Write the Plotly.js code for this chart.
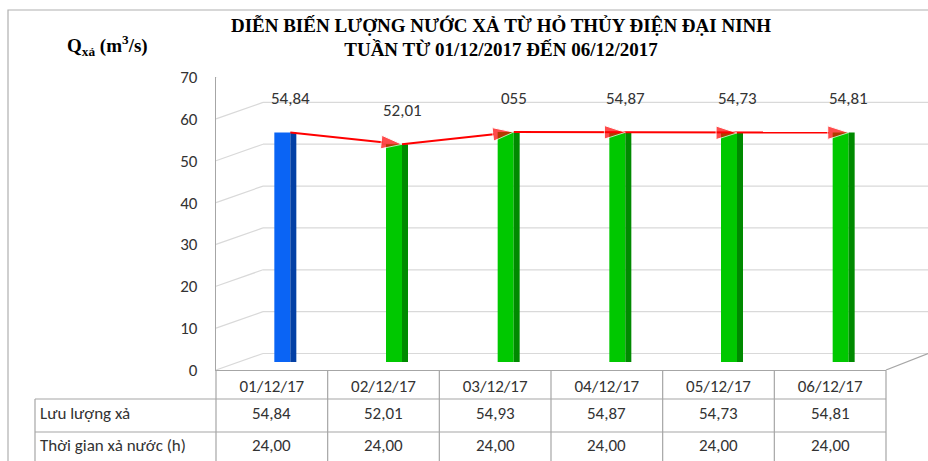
<!DOCTYPE html>
<html>
<head>
<meta charset="utf-8">
<script src="https://cdn.plot.ly/plotly-3.0.1.min.js"></script>
<style>html,body{margin:0;padding:0;background:#fff;}#chart{width:928px;height:461px;}</style>
</head>
<body>
<div id="chart"></div>
<script>
// ---- data ----
var categories = ["01/12/17", "02/12/17", "03/12/17", "04/12/17", "05/12/17", "06/12/17"];
var flowValues = [54.84, 52.01, 54.93, 54.87, 54.73, 54.81];
var pointLabels = ["54,84", "52,01", "055", "54,87", "54,73", "54,81"];
var hourValues = [24, 24, 24, 24, 24, 24];
var rowNames = ["Lưu lượng xả", "Thời gian xả nước (h)"];
var yTicks = [0, 10, 20, 30, 40, 50, 60, 70];
var titleLines = ["DIỄN BIẾN LƯỢNG NƯỚC XẢ TỪ HỎ THỦY ĐIỆN ĐẠI NINH", "TUẦN TỪ 01/12/2017 ĐẾN 06/12/2017"];

// ---- styles ----
var W = 928, H = 461;
var M = {l: 216, r: 42, t: 77, b: 91};
var PH = H - M.t - M.b; // 293
var PW = W - M.l - M.r; // 670
var FONT = "Carlito, Lato, 'Open Sans', sans-serif";
var SERIF = "'Liberation Serif', 'Times New Roman', serif";
var TXT = "#333333";
var frontColors = ["#0a64f5", "#00c800", "#00c800", "#00c800", "#00c800", "#00c800"];
var sideColors = ["#0340a5", "#008a00", "#008a00", "#008a00", "#008a00", "#008a00"];
var gridColor = "#d9d9d9", lineColor = "#a6a6a6";
var depthX = 47, depthY = 16.5;     // 3-D back-wall offset in px
var barBaseShift = 8;               // bars stand 8px behind the front edge
var faceW = 16 / (PW / 6), sideW = 6 / (PW / 6);
var faceShift = 18.5 / (PW / 6);

function fmt(v) { return v.toFixed(2).replace('.', ','); }
function pxX(px) { return (px - M.l) / PW; }
function pxY(py) { return (H - M.b - py) / PH; }

var idx = categories.map(function (c, i) { return i; });
var unitPx = PH / 70;
var barShiftUnits = barBaseShift / unitPx;

var traces = [
  {type: 'bar', x: idx, y: flowValues, xaxis: 'x2', yaxis: 'y', width: faceW, offset: -faceW,
   marker: {color: frontColors, line: {width: 0}}, hoverinfo: 'skip', showlegend: false},
  {type: 'bar', x: idx, y: flowValues, xaxis: 'x2', yaxis: 'y', width: sideW, offset: 0,
   marker: {color: sideColors, line: {width: 0}}, hoverinfo: 'skip', showlegend: false},
  {type: 'scatter', mode: 'lines+markers', x: idx, y: flowValues, xaxis: 'x2', yaxis: 'y',
   line: {color: '#ff0000', width: 2},
   marker: {symbol: 'arrow', angleref: 'previous', size: idx.map(function (i) { return i === 0 ? 0 : 22; }), color: '#ff0000'},
   cliponaxis: false, hoverinfo: 'skip', showlegend: false}
];

var shapes = [];
// outer frame
shapes.push({type: 'rect', xref: 'paper', yref: 'paper', x0: pxX(8), x1: pxX(W + 5), y0: pxY(10), y1: pxY(H + 5),
  line: {color: '#b0b0b0', width: 1.2}, layer: 'above'});
// back-wall gridlines
yTicks.forEach(function (v) {
  shapes.push({type: 'line', xref: 'paper', xsizemode: 'pixel', xanchor: 0, x0: 0, x1: depthX,
    yref: 'y2', ysizemode: 'pixel', yanchor: v, y0: 0, y1: depthY, line: {color: gridColor, width: 1.2}, layer: 'below'});
  shapes.push({type: 'line', xref: 'paper', xsizemode: 'pixel', xanchor: 0, x0: depthX, x1: W - M.l,
    yref: 'y2', ysizemode: 'pixel', yanchor: v, y0: depthY, y1: depthY, line: {color: gridColor, width: 1.2}, layer: 'below'});
});
// floor right edge
shapes.push({type: 'line', xref: 'paper', xsizemode: 'pixel', xanchor: 1, x0: 0, x1: M.r,
  yref: 'y2', ysizemode: 'pixel', yanchor: 0, y0: 0, y1: depthY, line: {color: lineColor, width: 1.2}, layer: 'below'});
// table: vertical column lines
for (var k = 0; k <= categories.length; k++) {
  shapes.push({type: 'line', xref: 'paper', x0: k / categories.length, x1: k / categories.length,
    yref: 'paper', y0: 0, y1: pxY(H + 5), line: {color: lineColor, width: 1.2}, layer: 'above'});
}
// table: row lines
[399, 432].forEach(function (py) {
  shapes.push({type: 'line', xref: 'paper', x0: pxX(35), x1: 1,
    yref: 'paper', y0: pxY(py), y1: pxY(py), line: {color: lineColor, width: 1.2}, layer: 'above'});
});
// table: left border
shapes.push({type: 'line', xref: 'paper', x0: pxX(35), x1: pxX(35),
  yref: 'paper', y0: pxY(399), y1: pxY(H + 5), line: {color: lineColor, width: 1.2}, layer: 'above'});

var annotations = [];
// data labels
idx.forEach(function (i) {
  annotations.push({xref: 'x2', yref: 'y', x: i, y: flowValues[i], yshift: 34, text: pointLabels[i],
    showarrow: false, font: {family: FONT, size: 17, color: TXT}});
});
// table rows
var rowY = [413.5, 445];
rowNames.forEach(function (name, r) {
  annotations.push({xref: 'paper', x: pxX(38), xanchor: 'left', yref: 'paper', y: pxY(rowY[r]), yanchor: 'middle',
    text: name, showarrow: false, font: {family: FONT, size: 17, color: TXT}});
});
idx.forEach(function (i) {
  annotations.push({xref: 'x', x: i, xanchor: 'center', yref: 'paper', y: pxY(rowY[0]), yanchor: 'middle',
    text: fmt(flowValues[i]), showarrow: false, font: {family: FONT, size: 17, color: TXT}});
  annotations.push({xref: 'x', x: i, xanchor: 'center', yref: 'paper', y: pxY(rowY[1]), yanchor: 'middle',
    text: fmt(hourValues[i]), showarrow: false, font: {family: FONT, size: 17, color: TXT}});
});
// y-axis unit title
annotations.push({xref: 'paper', yref: 'paper', x: pxX(107), xanchor: 'center', y: pxY(46), yanchor: 'middle',
  text: '<b>Q<sub>xả</sub> (m<sup>3</sup>/s)</b>', showarrow: false, font: {family: SERIF, size: 19, color: '#000'}});

var layout = {
  width: W, height: H,
  margin: M,
  paper_bgcolor: '#fff', plot_bgcolor: 'rgba(0,0,0,0)',
  barmode: 'overlay',
  showlegend: false,
  title: {text: '<b>' + titleLines.join('<br>') + '</b>', xref: 'container', x: 501 / W, xanchor: 'center',
    yref: 'container', y: 1 - 31.5 / H, yanchor: 'top', font: {family: SERIF, size: 19, color: '#000'}},
  xaxis: {range: [-0.5, categories.length - 0.5], tickvals: idx, ticktext: categories, showgrid: false, zeroline: false,
    showline: true, linecolor: lineColor, linewidth: 1.2, ticks: '', tickfont: {family: FONT, size: 17, color: TXT},
    ticklabelstandoff: 0, anchor: 'y2', fixedrange: true},
  xaxis2: {range: [-0.5 - faceShift, categories.length - 0.5 - faceShift], overlaying: 'x', anchor: 'y', visible: false, fixedrange: true},
  yaxis: {range: [-barShiftUnits, 70 - barShiftUnits], visible: false, anchor: 'x2', fixedrange: true},
  yaxis2: {range: [0, 70], overlaying: 'y', anchor: 'x', side: 'left', tickvals: yTicks, showgrid: false, zeroline: false,
    showline: true, linecolor: lineColor, linewidth: 1.2, ticks: '', ticklabelstandoff: 14,
    tickfont: {family: FONT, size: 17, color: TXT}, fixedrange: true},
  shapes: shapes,
  annotations: annotations
};

Plotly.newPlot('chart', traces, layout, {displayModeBar: false, staticPlot: true});
</script>
</body>
</html>
